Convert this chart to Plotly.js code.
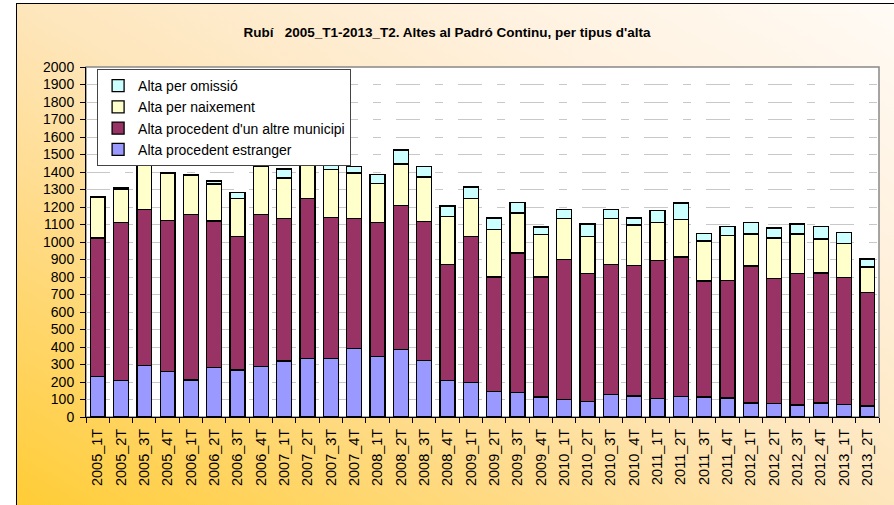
<!DOCTYPE html>
<html>
<head>
<meta charset="utf-8">
<script src="https://cdn.plot.ly/plotly-3.0.1.min.js"></script>
<style>
  html, body { margin: 0; padding: 0; background: #ffffff; overflow: hidden; }
  #bg {
    position: absolute; left: 16px; top: 3px; width: 890px; height: 510px;
    border-left: 1.5px solid #000; border-top: 1.5px solid #000;
    background: linear-gradient(to top right, #FFCC33 0%, #FFDB88 30%, #FEE6BC 50%, #FFF1DE 75%, #FFFBF6 100%);
  }
  #chart { position: absolute; left: 0; top: 0; width: 894px; height: 505px; }
</style>
</head>
<body>
<div id="bg"></div>
<div id="chart"></div>
<script>
const categories = ["2005_1T","2005_2T","2005_3T","2005_4T","2006_1T","2006_2T","2006_3T","2006_4T",
  "2007_1T","2007_2T","2007_3T","2007_4T","2008_1T","2008_2T","2008_3T","2008_4T",
  "2009_1T","2009_2T","2009_3T","2009_4T","2010_1T","2010_2T","2010_3T","2010_4T",
  "2011_1T","2011_2T","2011_3T","2011_4T","2012_1T","2012_2T","2012_3T","2012_4T",
  "2013_1T","2013_2T"];

const estranger = [232,210,295,259, 211,284,269,288, 320,333,333,390, 347,385,324,210,
  196,147,139,114, 99,90,128,120, 105,118,114,109, 80,76,69,80, 72,63];
const municipi = [791,900,892,865, 945,836,763,870, 813,915,806,743, 765,823,794,660,
  836,653,798,686, 800,729,744,747, 788,796,663,672, 783,716,750,743, 726,647];
const naixement = [232,193,261,270, 227,211,216,274, 233,262,274,261, 221,238,253,275,
  216,272,229,242, 234,213,261,230, 219,214,229,257, 183,231,227,194, 194,147];
const omissio = [5,7,3,2, 2,18,36,58, 51,40,35,38, 54,80,59,61,
  66,65,59,44, 54,71,54,40, 67,95,42,50, 64,57,57,71, 63,46];

const seriesNames = ["Alta procedent estranger", "Alta procedent d'un altre municipi",
  "Alta per naixement", "Alta per omissió"];
const seriesValues = [estranger, municipi, naixement, omissio];
const seriesColors = ["#9999FF", "#993366", "#FFFFCC", "#CCFFFF"];

const FONT = "Arial, 'Liberation Sans', sans-serif";

const traces = seriesNames.map((n, i) => ({
  type: "bar",
  name: n,
  x: categories,
  y: seriesValues[i],
  marker: { color: seriesColors[i], line: { color: "#000000", width: 1.3 } },
  hoverinfo: "x+y+name"
}));

const layout = {
  width: 894, height: 505,
  margin: { l: 86, r: 15, t: 67, b: 88, pad: 0 },
  paper_bgcolor: "rgba(0,0,0,0)",
  plot_bgcolor: "#FFFFFF",
  barmode: "stack",
  bargap: 0.36,
  showlegend: true,
  font: { family: FONT, color: "#000000", size: 14 },
  title: {
    text: "Rubí\u00A0\u00A0 2005_T1-2013_T2. Altes al Padró Continu, per tipus d'alta",
    font: { family: FONT, size: 13.5, color: "#000000", weight: "bold" },
    x: 0.5, xref: "container", xanchor: "center",
    y: 1 - 32 / 505, yref: "container", yanchor: "middle"
  },
  legend: {
    traceorder: "reversed",
    x: 0.014, xanchor: "left", y: 0.994, yanchor: "top",
    bgcolor: "#FFFFFF", bordercolor: "#444444", borderwidth: 1,
    itemwidth: 30,
    font: { family: FONT, size: 14, color: "#000000" }
  },
  xaxis: {
    type: "category",
    tickangle: -90,
    tickson: "boundaries",
    ticks: "outside", ticklen: 5, tickcolor: "#000000", tickwidth: 1,
    ticklabelstandoff: 5,
    showline: true, linecolor: "#000000", linewidth: 1,
    showgrid: false, zeroline: false,
    tickfont: { family: FONT, size: 14.5, color: "#000000" },
    fixedrange: true
  },
  yaxis: {
    range: [0, 2000],
    dtick: 100, tick0: 0,
    ticks: "outside", ticklen: 5, tickcolor: "#000000", tickwidth: 1,
    ticklabelstandoff: 3,
    showline: true, linecolor: "#000000", linewidth: 1,
    showgrid: true, gridcolor: "#C8C8C8", gridwidth: 1, griddash: "24px,15px,8px,15px",
    zeroline: false,
    tickfont: { family: FONT, size: 14, color: "#000000" },
    fixedrange: true
  },
  shapes: [{
    type: "rect", xref: "paper", yref: "paper", x0: 0, x1: 1, y0: 0, y1: 1,
    line: { color: "#888888", width: 1.5 }, fillcolor: "rgba(0,0,0,0)", layer: "below"
  }]
};

Plotly.newPlot("chart", traces, layout, { displayModeBar: false, staticPlot: true });
</script>
</body>
</html>
